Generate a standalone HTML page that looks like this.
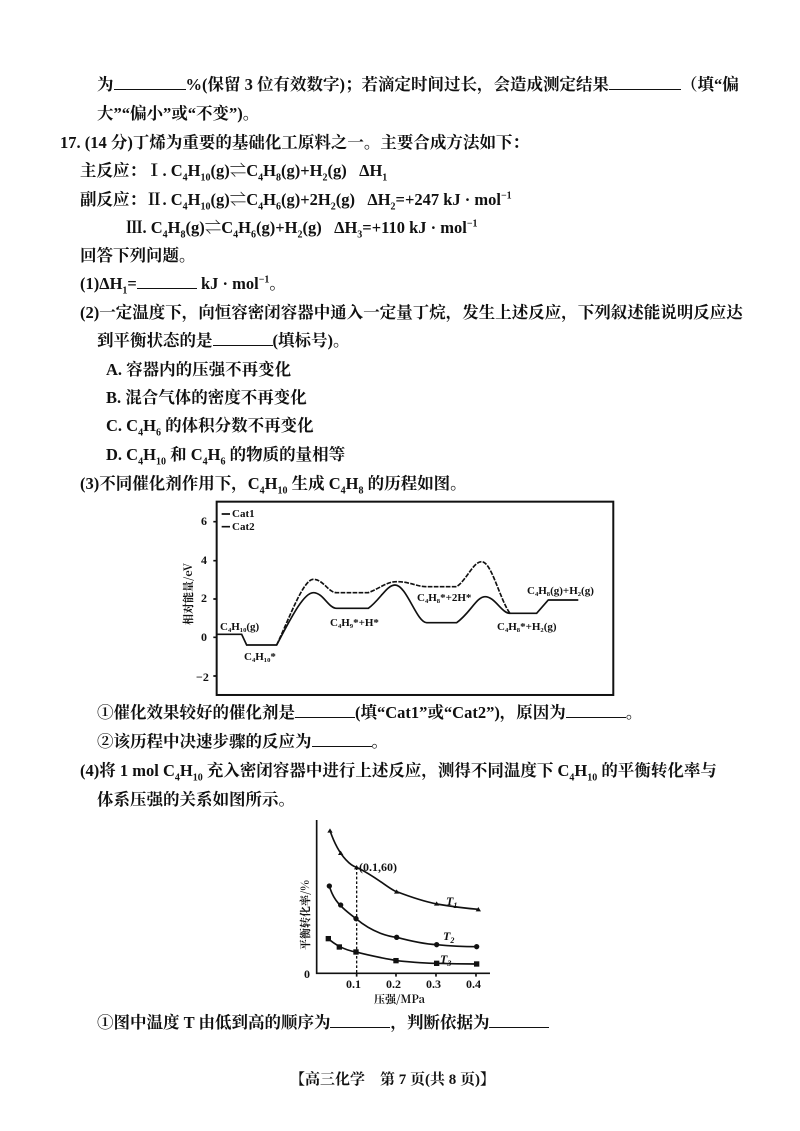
<!DOCTYPE html>
<html><head><meta charset="utf-8"><style>
body{margin:0;background:#fff;}
#p{position:relative;width:800px;height:1131px;background:#fff;overflow:hidden;font-family:"Liberation Serif","Noto Serif CJK SC",serif;font-weight:bold;color:#111;font-size:16.5px;}
.l{position:absolute;white-space:nowrap;line-height:22px;}
.u{display:inline-block;border-bottom:1.5px solid #111;height:15px;vertical-align:baseline;}
sub,sup{font-size:10px;line-height:0;}
</style></head><body><div id="p">
<div class="l" style="left:97px;top:74px">为<span class="u" style="width:72px"></span>%(保留 3 位有效数字)；若滴定时间过长，会造成测定结果<span class="u" style="width:72px"></span>（填“偏</div>
<div class="l" style="left:97px;top:103px">大”“偏小”或“不变”)。</div>
<div class="l" style="left:60px;top:132px">17. (14 分)丁烯为重要的基础化工原料之一。主要合成方法如下：</div>
<div class="l" style="left:80px;top:160px">主反应：Ⅰ. C<sub>4</sub>H<sub>10</sub>(g)⇌C<sub>4</sub>H<sub>8</sub>(g)+H<sub>2</sub>(g) &nbsp;&nbsp;ΔH<sub>1</sub></div>
<div class="l" style="left:80px;top:189px">副反应：Ⅱ. C<sub>4</sub>H<sub>10</sub>(g)⇌C<sub>4</sub>H<sub>6</sub>(g)+2H<sub>2</sub>(g) &nbsp;&nbsp;ΔH<sub>2</sub>=+247 kJ · mol<sup>−1</sup></div>
<div class="l" style="left:126px;top:217px">Ⅲ. C<sub>4</sub>H<sub>8</sub>(g)⇌C<sub>4</sub>H<sub>6</sub>(g)+H<sub>2</sub>(g) &nbsp;&nbsp;ΔH<sub>3</sub>=+110 kJ · mol<sup>−1</sup></div>
<div class="l" style="left:80px;top:245px">回答下列问题。</div>
<div class="l" style="left:80px;top:273px">(1)ΔH<sub>1</sub>=<span class="u" style="width:60px"></span> kJ · mol<sup>−1</sup>。</div>
<div class="l" style="left:80px;top:302px">(2)一定温度下，向恒容密闭容器中通入一定量丁烷，发生上述反应，下列叙述能说明反应达</div>
<div class="l" style="left:97px;top:330px">到平衡状态的是<span class="u" style="width:60px"></span>(填标号)。</div>
<div class="l" style="left:106px;top:359px">A. 容器内的压强不再变化</div>
<div class="l" style="left:106px;top:387px">B. 混合气体的密度不再变化</div>
<div class="l" style="left:106px;top:415px">C. C<sub>4</sub>H<sub>6</sub> 的体积分数不再变化</div>
<div class="l" style="left:106px;top:444px">D. C<sub>4</sub>H<sub>10</sub> 和 C<sub>4</sub>H<sub>6</sub> 的物质的量相等</div>
<div class="l" style="left:80px;top:473px">(3)不同催化剂作用下，C<sub>4</sub>H<sub>10</sub> 生成 C<sub>4</sub>H<sub>8</sub> 的历程如图。</div>

<svg style="position:absolute;left:0;top:0" width="800" height="1131">
<g transform="translate(180,490) scale(0.3333)" fill="none" stroke="#111" stroke-width="5">
<rect x="110" y="35" width="1190" height="580" stroke-width="6"/>
<path d="M110,433 L185,433 L200,465 L290,465 C330,390 370,308 400,308 C430,308 445,355 470,355 L565,355 C600,330 620,285 645,285 C680,285 710,398 740,398 L830,398 C870,370 890,320 915,320 C945,320 965,370 990,370 L1070,370 L1105,330 L1195,330"/>
<path d="M290,465 C330,380 370,268 400,268 C430,268 445,308 470,308 L565,308 C600,295 620,275 650,275 C690,275 710,290 740,290 L830,290 C860,270 880,215 905,215 C935,215 960,330 990,370" stroke-dasharray="14,4"/>
<path d="M110,95 L100,95 M110,212 L100,212 M110,327 L100,327 M110,442 L100,442 M110,558 L100,558"/>
<path d="M125,72 L150,72 M125,110 L150,110" />
</g>
<g font-family="Liberation Serif,serif" font-size="11" fill="#111">
<text x="201" y="525" font-size="12">6</text><text x="201" y="564" font-size="12">4</text><text x="201" y="602" font-size="12">2</text><text x="201" y="641" font-size="12">0</text><text x="196" y="681" font-size="12">−2</text>
<text x="232" y="517">Cat1</text><text x="232" y="530">Cat2</text>
<text x="220" y="630">C₄H₁₀(g)</text>
<text x="244" y="660">C₄H₁₀*</text>
<text x="330" y="626">C₄H₉*+H*</text>
<text x="417" y="601">C₄H₈*+2H*</text>
<text x="497" y="630">C₄H₈*+H₂(g)</text>
<text x="527" y="594">C₄H₈(g)+H₂(g)</text>
<text transform="translate(192,625) rotate(-90)" font-family="Noto Serif CJK SC,serif" font-size="11">相对能量/eV</text>
</g>
<g transform="translate(290,810) scale(0.3333)" stroke="#111" stroke-width="5" fill="none">
<path d="M80,30 L80,490 L600,490"/>
<path d="M200,490 L200,500 M318,490 L318,500 M438,490 L438,500 M558,490 L558,500"/>
<path d="M120,62 C150,150 190,170 200,172 C260,200 300,240 320,245 C380,268 420,278 440,282 C500,292 540,296 565,298"/>
<path d="M118,228 C130,270 150,290 198,326 C250,370 300,380 320,382 C380,398 420,403 440,404 C500,410 540,410 560,410"/>
<path d="M115,386 C130,400 160,420 198,426 C250,440 300,448 320,452 C380,458 420,460 440,460 C500,462 540,462 560,462"/>
<path d="M200,172 L200,490" stroke-dasharray="8,6" stroke-width="4"/>
<g fill="#111" stroke="none">
<polygon points="120,55 112,68 128,68"/><polygon points="152,122 144,135 160,135"/><polygon points="200,165 192,178 208,178"/><polygon points="320,238 312,251 328,251"/><polygon points="440,274 432,287 448,287"/><polygon points="565,291 557,304 573,304"/>
<circle cx="118" cy="228" r="8"/><circle cx="152" cy="285" r="8"/><circle cx="198" cy="326" r="8"/><circle cx="320" cy="382" r="8"/><circle cx="440" cy="404" r="8"/><circle cx="560" cy="410" r="8"/>
<rect x="107" y="378" width="16" height="16"/><rect x="140" y="403" width="16" height="16"/><rect x="190" y="418" width="16" height="16"/><rect x="310" y="444" width="16" height="16"/><rect x="432" y="452" width="16" height="16"/><rect x="552" y="454" width="16" height="16"/>
</g>
</g>
<g font-family="Liberation Serif,serif" font-size="12" fill="#111">
<text x="359" y="871">(0.1,60)</text>
<text x="446" y="905" font-style="italic">T<tspan font-size="8" dy="3">1</tspan></text>
<text x="443" y="940" font-style="italic">T<tspan font-size="8" dy="3">2</tspan></text>
<text x="440" y="963" font-style="italic">T<tspan font-size="8" dy="3">3</tspan></text>
<text x="304" y="978">0</text>
<text x="346" y="988">0.1</text><text x="386" y="988">0.2</text><text x="426" y="988">0.3</text><text x="466" y="988">0.4</text>
<text x="374" y="1003" font-family="Noto Serif CJK SC,serif" font-size="11">压强/MPa</text>
<text transform="translate(309,950) rotate(-90)" font-family="Noto Serif CJK SC,serif" font-size="11">平衡转化率/%</text>
</g>
</svg>

<div class="l" style="left:97px;top:702px">①催化效果较好的催化剂是<span class="u" style="width:60px"></span>(填“Cat1”或“Cat2”)，原因为<span class="u" style="width:60px"></span>。</div>
<div class="l" style="left:97px;top:731px">②该历程中决速步骤的反应为<span class="u" style="width:60px"></span>。</div>
<div class="l" style="left:80px;top:760px">(4)将 1 mol C<sub>4</sub>H<sub>10</sub> 充入密闭容器中进行上述反应，测得不同温度下 C<sub>4</sub>H<sub>10</sub> 的平衡转化率与</div>
<div class="l" style="left:97px;top:789px">体系压强的关系如图所示。</div>
<div class="l" style="left:97px;top:1012px">①图中温度 T 由低到高的顺序为<span class="u" style="width:60px"></span>，判断依据为<span class="u" style="width:60px"></span></div>
<div class="l" style="left:290px;top:1069px;font-size:15px">【高三化学　第 7 页(共 8 页)】</div>
</div></body></html>
